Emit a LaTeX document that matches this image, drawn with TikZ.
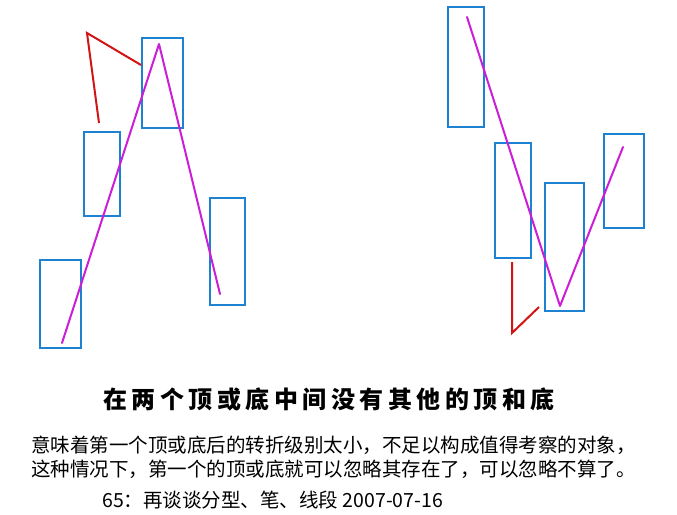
\documentclass[tikz,border=0pt]{standalone}
\usepackage{fontspec}
\newfontfamily\cjk{Noto Sans CJK SC}
\definecolor{boxblue}{RGB}{30,130,210}
\definecolor{pathmag}{RGB}{205,30,215}
\definecolor{markred}{RGB}{210,20,20}
\newcommand\tchar[1]{\makebox[28.5pt]{#1}}
\begin{document}
\begin{tikzpicture}[x=1pt,y=-1pt,
  box/.style={draw=boxblue, line width=2pt, inner sep=0pt, outer sep=0pt},
  pen/.style={draw=pathmag, line width=2pt, line join=round, line cap=round},
  redmark/.style={draw=markred, line width=2pt, line join=miter},
  txt/.style={inner sep=0pt, anchor=west, font=\cjk}]
\useasboundingbox (0,0) rectangle (677,514);
\fill[white] (0,0) rectangle (677,514);
% left group boxes
\node[box, minimum width=41pt, minimum height=88pt] (l1) at (60.5,304) {};
\node[box, minimum width=36pt, minimum height=84pt] (l2) at (102,174) {};
\node[box, minimum width=41pt, minimum height=90pt] (l3) at (162.5,83) {};
\node[box, minimum width=35pt, minimum height=107pt] (l4) at (227.5,251.5) {};
% right group boxes
\node[box, minimum width=36pt, minimum height=120pt] (r1) at (466,67) {};
\node[box, minimum width=36pt, minimum height=115pt] (r2) at (513,200.5) {};
\node[box, minimum width=39pt, minimum height=128pt] (r3) at (564.5,247) {};
\node[box, minimum width=40pt, minimum height=94pt] (r4) at (624,181) {};
% path coordinates
\coordinate (la) at (62,343);
\coordinate (lb) at (159,44);
\coordinate (lc) at (220,294);
\coordinate (ra) at (467,17);
\coordinate (rb) at (560,306);
\coordinate (rc) at (623,147);
\draw[pen] (la) -- (lb) -- (lc);
\draw[pen] (ra) -- (rb) -- (rc);
% red marks
\coordinate (m1) at (99,123);
\coordinate (m2) at (87,33);
\coordinate (m3) at (141,65);
\coordinate (n1) at (512,262);
\coordinate (n2) at (512,333);
\coordinate (n3) at (539,307);
\draw[redmark] (m1) -- (m2) -- (m3);
\draw[redmark] (n1) -- (n2) -- (n3);
% texts
\node[inner sep=0pt, font=\cjk\bfseries\fontsize{24}{25}\selectfont] (title) at (329,399)
  {\tchar{在}\tchar{两}\tchar{个}\tchar{顶}\tchar{或}\tchar{底}\tchar{中}\tchar{间}\tchar{没}\tchar{有}\tchar{其}\tchar{他}\tchar{的}\tchar{顶}\tchar{和}\tchar{底}};
\node[txt, font=\cjk\fontsize{19.5}{20}\selectfont] (line1) at (31,445)
  {意味着第一个顶或底后的转折级别太小，不足以构成值得考察的对象，};
\node[txt, font=\cjk\fontsize{19.5}{20}\selectfont] (line2) at (31,469)
  {这种情况下，第一个的顶或底就可以忽略其存在了，可以忽略不算了。};
\node[txt, font=\cjk\fontsize{19.5}{20}\selectfont] (line3) at (102,500)
  {65：再谈谈分型、笔、线段 2007-07-16};
\end{tikzpicture}
\end{document}
